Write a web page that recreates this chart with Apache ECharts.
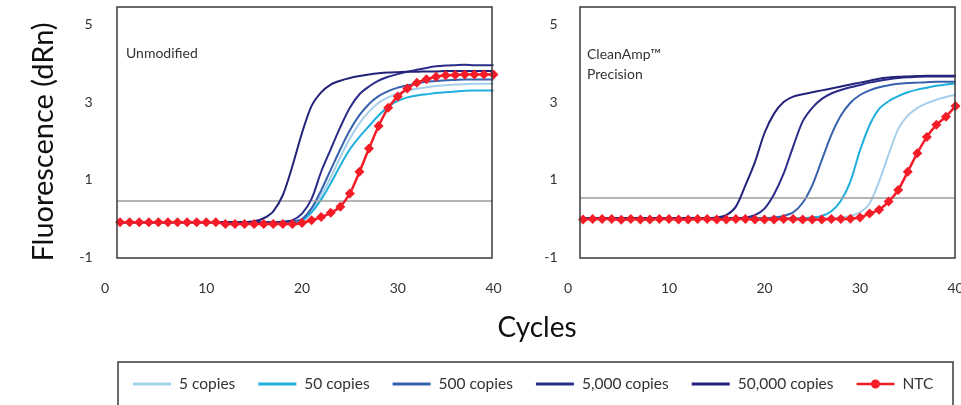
<!DOCTYPE html>
<html><head><meta charset="utf-8">
<script src="https://cdn.jsdelivr.net/npm/echarts@6.0.0/dist/echarts.min.js"></script>
<style>html,body{margin:0;padding:0;background:#fff}#c{width:961px;height:405px}</style>
</head><body><div id="c"></div>
<script>
// ---------- DATA ----------
const cycles = [1,2,3,4,5,6,7,8,9,10,11,12,13,14,15,16,17,18,19,20,21,22,23,24,25,26,27,28,29,30,31,32,33,34,35,36,37,38,39,40];
const seriesNames = ['5 copies','50 copies','500 copies','5,000 copies','50,000 copies','NTC'];
const xTicks = [0,10,20,30,40];
const yTicks = [-1,1,3,5];
const panelLabels = ['Unmodified','CleanAmp™\nPrecision'];
const thresholds = [0.44, 0.52];

// Unmodified panel
const unmod5 = [-0.1,-0.1,-0.1,-0.1,-0.1,-0.1,-0.1,-0.1,-0.1,-0.1,-0.1,-0.1,-0.1,-0.1,-0.1,-0.1,-0.1,-0.1,-0.1,-0.06,0.2,0.6,1.05,1.58,2.06,2.45,2.75,2.98,3.12,3.22,3.29,3.34,3.38,3.41,3.43,3.45,3.46,3.47,3.47,3.47];
const unmod50 = [-0.1,-0.1,-0.1,-0.1,-0.1,-0.1,-0.1,-0.1,-0.1,-0.1,-0.1,-0.1,-0.1,-0.1,-0.1,-0.1,-0.1,-0.1,-0.1,-0.07,0.15,0.48,0.9,1.36,1.78,2.1,2.38,2.65,2.88,3.03,3.12,3.17,3.2,3.23,3.25,3.27,3.29,3.3,3.3,3.3];
const unmod500 = [-0.1,-0.1,-0.1,-0.1,-0.1,-0.1,-0.1,-0.1,-0.1,-0.1,-0.1,-0.1,-0.1,-0.1,-0.1,-0.1,-0.1,-0.1,-0.08,-0.02,0.26,0.72,1.25,1.78,2.27,2.66,2.95,3.15,3.28,3.37,3.43,3.48,3.52,3.54,3.56,3.57,3.58,3.58,3.58,3.58];
const unmod5000 = [-0.1,-0.1,-0.1,-0.1,-0.1,-0.1,-0.1,-0.1,-0.1,-0.1,-0.1,-0.1,-0.1,-0.1,-0.1,-0.1,-0.1,-0.09,-0.05,0.12,0.5,1.2,1.78,2.35,2.85,3.2,3.4,3.55,3.65,3.72,3.78,3.83,3.88,3.92,3.94,3.95,3.96,3.95,3.95,3.95];
const unmod50000 = [-0.1,-0.1,-0.1,-0.1,-0.1,-0.1,-0.1,-0.1,-0.1,-0.1,-0.1,-0.1,-0.1,-0.1,-0.08,0.0,0.18,0.6,1.35,2.2,2.9,3.25,3.45,3.55,3.62,3.67,3.71,3.74,3.76,3.77,3.78,3.78,3.79,3.79,3.8,3.8,3.8,3.8,3.8,3.8];
const unmodNTC = [-0.1,-0.1,-0.1,-0.1,-0.1,-0.1,-0.1,-0.1,-0.1,-0.1,-0.1,-0.15,-0.15,-0.15,-0.15,-0.15,-0.15,-0.15,-0.15,-0.12,-0.05,0.03,0.14,0.3,0.64,1.2,1.8,2.38,2.85,3.14,3.35,3.5,3.59,3.65,3.69,3.7,3.71,3.71,3.71,3.71];

// CleanAmp Precision panel
const clean5 = [0,0,0,0,0,0,0,0,0,0,0,0,0,0,0,0,0,0,0,0,0,0,0,0,0,0,0,0.02,0.06,0.15,0.38,0.95,1.65,2.3,2.65,2.84,2.97,3.06,3.13,3.18];
const clean50 = [0,0,0,0,0,0,0,0,0,0,0,0,0,0,0,0,0,0,0,0,0,0,0,0,0.02,0.06,0.18,0.45,0.95,1.75,2.4,2.82,3.02,3.15,3.25,3.32,3.37,3.42,3.45,3.48];
const clean500 = [0,0,0,0,0,0,0,0,0,0,0,0,0,0,0,0,0,0,0,0,0.02,0.06,0.15,0.4,0.85,1.5,2.15,2.65,2.98,3.18,3.3,3.38,3.43,3.47,3.49,3.5,3.51,3.52,3.52,3.52];
const clean5000 = [0,0,0,0,0,0,0,0,0,0,0,0,0,0,0,0,0,0.02,0.08,0.25,0.62,1.15,1.85,2.5,2.85,3.08,3.22,3.31,3.38,3.44,3.5,3.55,3.59,3.62,3.64,3.65,3.66,3.66,3.66,3.66];
const clean50000 = [0,0,0,0,0,0,0,0,0,0,0,0,0,0,0.02,0.08,0.3,0.85,1.45,2.2,2.7,3.0,3.14,3.2,3.25,3.3,3.35,3.4,3.45,3.5,3.55,3.6,3.63,3.65,3.66,3.67,3.68,3.68,3.68,3.68];
const cleanNTC = [-0.03,-0.02,-0.02,-0.02,-0.04,-0.02,-0.03,-0.03,-0.02,-0.02,-0.03,-0.03,-0.02,-0.02,-0.03,-0.03,-0.02,-0.02,-0.03,-0.03,-0.03,-0.02,-0.02,-0.03,-0.03,-0.03,-0.02,-0.02,-0.01,0.02,0.12,0.22,0.43,0.73,1.2,1.68,2.1,2.41,2.62,2.9];

// ---------- STYLE ----------
const FONT = 'Lato';
const colors = ['#a6cfea','#1eafdc','#3662ad','#2b2b8a','#24237a','#f41c26'];
const panels = [
  [unmod5, unmod50, unmod500, unmod5000, unmod50000, unmodNTC],
  [clean5, clean50, clean500, clean5000, clean50000, cleanNTC]
];

const grids = [
  {left:110.5, top:24.5, width:383, height:232.5, outerBoundsMode:'none', containLabel:false},
  {left:573.5, top:24.5, width:382, height:232.5, outerBoundsMode:'none', containLabel:false}
];

const xAxes = grids.map((g,i)=>({
  type:'value', gridIndex:i, min:0, max:40, interval:10,
  axisLine:{show:false}, axisTick:{show:false}, splitLine:{show:false},
  axisLabel:{
    margin:24, fontFamily:FONT, fontSize:14, color:'#333',
    formatter:v=> v===0 ? '{z|0}' : String(v),
    rich:{z:{fontFamily:FONT,fontSize:14,color:'#333',padding:[0,11,0,0]}}
  }
}));
const yAxes = grids.map((g,i)=>({
  type:'value', gridIndex:i, min:-1, max:5, interval:2,
  axisLine:{show:false}, axisTick:{show:false}, splitLine:{show:false},
  axisLabel:{margin: i===0 ? 18 : 16, fontFamily:FONT, fontSize:14, color:'#333'}
}));

const series = [];
panels.forEach((sets, gi)=>{
  sets.forEach((vals, si)=>{
    const isNTC = si === 5;
    const s = {
      name: seriesNames[si], type:'line', xAxisIndex:gi, yAxisIndex:gi,
      data: cycles.map((c,k)=>[c, vals[k]]),
      smooth: 0.3, animation:false, silent:true,
      symbol: isNTC ? 'diamond' : 'none',
      symbolSize: isNTC ? 10 : 0,
      showSymbol: isNTC,
      lineStyle:{color:colors[si], width: isNTC ? 2.5 : 2},
      itemStyle:{color:colors[si]},
      emphasis:{disabled:true},
      z: 2 + si
    };
    if (si === 0) {
      s.markLine = {
        silent:true, symbol:'none', animation:false,
        label:{show:false},
        lineStyle:{color:'#9c9c9c', width:1.6, type:'solid'},
        data:[[{coord:[0.7, thresholds[gi]]},{coord:[39.9, thresholds[gi]]}]]
      };
    }
    series.push(s);
  });
});

const lineIcon = 'path://M0,0 L38,0 L38,3 L0,3 Z';
const ntcIcon = 'path://M0,5.5 L38,5.5 L38,8 L0,8 Z M23.5,6.75 A4.5,4.5 0 1 1 14.5,6.75 A4.5,4.5 0 1 1 23.5,6.75 Z';

const chart = echarts.init(document.getElementById('c'), null, {renderer:'canvas'});
chart.setOption({
  animation:false,
  backgroundColor:'#fff',
  grid: grids,
  xAxis: xAxes,
  yAxis: yAxes,
  legend:{
    data: seriesNames.map((n,i)=>({name:n, icon: i===5 ? ntcIcon : lineIcon})),
    left:128, top:371,
    itemWidth:38, itemHeight:14, itemGap:23,
    selectedMode:false,
    textStyle:{fontFamily:FONT, fontSize:15.5, color:'#333', padding:[0,0,0,3]}
  },
  graphic:[
    {type:'rect', shape:{x:117, y:7, width:375, height:251}, style:{fill:'none', stroke:'#3a3a3a', lineWidth:1.5}, z:10, silent:true},
    {type:'rect', shape:{x:580, y:7, width:375, height:251}, style:{fill:'none', stroke:'#3a3a3a', lineWidth:1.5}, z:10, silent:true},
    {type:'rect', shape:{x:118, y:362, width:835, height:60}, style:{fill:'none', stroke:'#3a3a3a', lineWidth:1.5}, z:10, silent:true},
    {type:'text', x:126, y:53, style:{text:panelLabels[0], font:'14px '+FONT, fill:'#333', textVerticalAlign:'middle'}, z:11},
    {type:'text', x:587, y:44, style:{text:panelLabels[1], font:'14px '+FONT, fill:'#333', lineHeight:20, textVerticalAlign:'top'}, z:11},
    {type:'text', x:44, y:142, rotation:Math.PI/2, style:{text:'Fluorescence (dRn)', font:'29px '+FONT, fill:'#111', textAlign:'center', textVerticalAlign:'middle'}, z:11},
    {type:'text', x:537, y:328, style:{text:'Cycles', font:'28px '+FONT, fill:'#111', textAlign:'center', textVerticalAlign:'middle'}, z:11}
  ],
  series: series
});
</script>
</body></html>
